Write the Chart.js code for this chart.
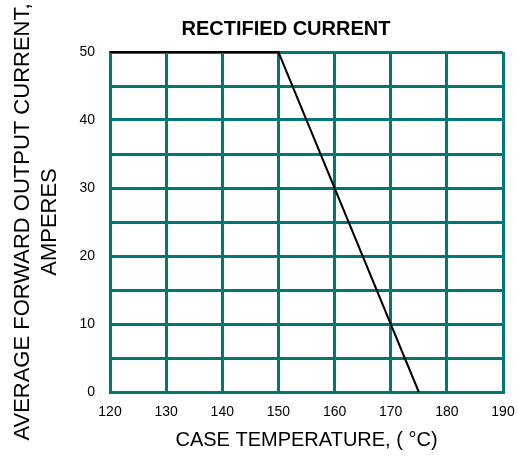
<!DOCTYPE html>
<html>
<head>
<meta charset="utf-8">
<script src="https://cdn.jsdelivr.net/npm/chart.js@4.4.1/dist/chart.umd.min.js"></script>
<style>
  html, body { margin: 0; padding: 0; background: #fff; }
  #wrap { width: 518px; height: 457px; }
</style>
</head>
<body>
<div id="wrap"><canvas id="derating"></canvas></div>
<script>
// derating curve: case temperature (°C) vs. average forward current (A)
const caseTemp = [120, 150, 175];
const avgCurrent = [50, 50, 0];
const yLabelValues = [0, 10, 20, 30, 40, 50];

const titleText = 'RECTIFIED CURRENT';
const xTitle = 'CASE TEMPERATURE, ( °C)';
const yTitle = ['AVERAGE FORWARD OUTPUT CURRENT,', 'AMPERES'];

const gridTeal = '#007676';
const sans = "'Liberation Sans', Arial, sans-serif";

// title sits a bit left of the plot centre in the original, so draw it by hand
const topTitle = {
    id: 'topTitle',
    afterDraw(chart) {
        const c = chart.ctx;
        c.save();
        c.font = 'bold 20px ' + sans;
        c.fillStyle = '#000';
        c.textAlign = 'center';
        c.textBaseline = 'middle';
        c.fillText(titleText, 286, 29);
        c.restore();
    }
};

const canvas = document.getElementById('derating');
var ctx = canvas.getContext('2d');
new Chart(ctx, {
    type: 'line',
    data: {
        datasets: [{
            data: caseTemp.map((t, i) => ({ x: t, y: avgCurrent[i] })),
            borderColor: '#000',
            borderWidth: 2,
            pointRadius: 0,
            tension: 0,
            clip: false
        }]
    },
    options: {
        responsive: true,
        maintainAspectRatio: false,
        animation: false,
        layout: { padding: { top: 52, right: 15, bottom: 0, left: 0 } },
        plugins: {
            legend: { display: false },
            tooltip: { enabled: false },
            title: { display: false }
        },
        scales: {
            x: {
                type: 'linear',
                min: 120,
                max: 190,
                ticks: {
                    stepSize: 10,
                    padding: 12,
                    color: '#000',
                    font: { family: sans, size: 14 }
                },
                grid: { color: gridTeal, lineWidth: 3, drawTicks: false },
                border: { color: gridTeal, width: 3 },
                title: {
                    display: true,
                    text: xTitle,
                    color: '#000',
                    font: { family: sans, size: 20 },
                    padding: { top: 0, bottom: 5 }
                },
                afterFit(scale) {
                    scale.height = 65;
                    // don't let the end labels push the plot inwards
                    scale.paddingLeft = 0;
                    scale.paddingRight = 0;
                }
            },
            y: {
                type: 'linear',
                min: 0,
                max: 50,
                ticks: {
                    stepSize: 5,
                    padding: 15,
                    color: '#000',
                    font: { family: sans, size: 14 },
                    callback: (v) => yLabelValues.includes(v) ? String(v) : ''
                },
                grid: { color: gridTeal, lineWidth: 3, drawTicks: false },
                border: { color: gridTeal, width: 3 },
                title: {
                    display: true,
                    text: yTitle,
                    color: '#000',
                    font: { family: sans, size: 22, lineHeight: 1.23 },
                    padding: { top: 9, bottom: 0 }
                },
                afterFit(scale) {
                    scale.width = 110;
                    scale.paddingTop = 0;
                    scale.paddingBottom = 0;
                }
            }
        }
    },
    plugins: [topTitle]
});
</script>
</body>
</html>
